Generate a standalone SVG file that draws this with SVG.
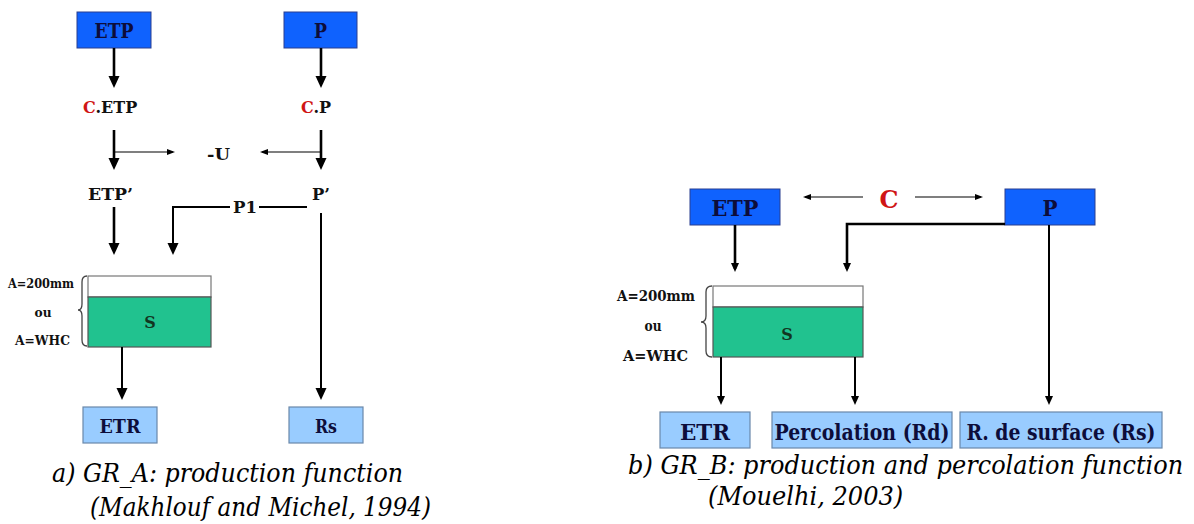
<svg xmlns="http://www.w3.org/2000/svg" width="1194" height="524" viewBox="0 0 1194 524" font-family="DejaVu Serif">
<defs>
<marker id="big" markerUnits="userSpaceOnUse" markerWidth="12" markerHeight="12" refX="8" refY="6" orient="auto"><path d="M0,0.5 L12,6 L0,11.5 z" fill="#000"/></marker>
<marker id="mid" markerUnits="userSpaceOnUse" markerWidth="10" markerHeight="10" refX="6" refY="4.5" orient="auto"><path d="M0,0.5 L9,4.5 L0,8.5 z" fill="#000"/></marker>
<marker id="small" markerUnits="userSpaceOnUse" markerWidth="9" markerHeight="7" refX="6" refY="3" orient="auto"><path d="M0,0 L8,3 L0,6 z" fill="#000"/></marker>
</defs>
<style>
text{font-family:'DejaVu Serif',serif;}
.b{font-weight:bold;}
.top{fill:#0f62fe;stroke:#2a3f8f;stroke-width:1;}
.low{fill:#99ccff;stroke:#6a88aa;stroke-width:1.2;}
.bt{font-weight:bold;fill:#0d0d3a;text-anchor:middle;}
.lab{font-weight:bold;fill:#111;}
.red{fill:#d01515;}
.cap{font-style:italic;fill:#000;}
.thick{stroke:#000;stroke-width:2.6;fill:none;}
.med{stroke:#000;stroke-width:2;fill:none;}
.thin{stroke:#000;stroke-width:1.2;fill:none;}
.res-w{fill:#fff;stroke:#777;stroke-width:1.2;}
.res-g{fill:#21c28f;stroke:#555;stroke-width:1.2;}
.brace{fill:none;stroke:#444;stroke-width:1.3;}
</style>

<!-- ============ Diagram a ============ -->
<g id="a-etp"><rect class="top" x="77" y="12" width="74" height="36"/><text class="bt" x="114" y="38" font-size="20" textLength="39" lengthAdjust="spacingAndGlyphs">ETP</text></g>
<g id="a-p"><rect class="top" x="284" y="12" width="73" height="36"/><text class="bt" x="320.5" y="38" font-size="20" textLength="13" lengthAdjust="spacingAndGlyphs">P</text></g>
<g id="a-cetp"><text class="lab" x="83" y="113" font-size="16"><tspan class="red">C</tspan>.ETP</text></g>
<g id="a-cp"><text class="lab" x="301" y="113" font-size="16"><tspan class="red">C</tspan>.P</text></g>
<g id="a-u"><text class="lab" x="207" y="160" font-size="17" textLength="23" lengthAdjust="spacingAndGlyphs">-U</text></g>
<g id="a-etp2"><text class="lab" x="88" y="200" font-size="17" textLength="45" lengthAdjust="spacingAndGlyphs">ETP’</text></g>
<g id="a-p2"><text class="lab" x="312" y="200" font-size="17" textLength="18" lengthAdjust="spacingAndGlyphs">P’</text></g>
<g id="a-p1"><text class="lab" x="233" y="213" font-size="17" textLength="24" lengthAdjust="spacingAndGlyphs">P1</text></g>
<g id="a-s">
<rect class="res-w" x="88" y="276" width="123" height="21"/>
<rect class="res-g" x="88" y="297" width="123" height="50"/>
<text class="bt" x="150" y="328" font-size="16" style="fill:#12351f">S</text>
<path class="brace" d="M87,276 Q82,276 82,282 L82,304 Q82,310 78,310 Q82,310 82,316 L82,340 Q82,346 87,346"/>
<text class="lab" x="8" y="288" font-size="12.5" textLength="66" lengthAdjust="spacingAndGlyphs">A=200mm</text>
<text class="lab" x="43" y="317" font-size="12.5" text-anchor="middle" textLength="17" lengthAdjust="spacingAndGlyphs">ou</text>
<text class="lab" x="15" y="345" font-size="12.5" textLength="55" lengthAdjust="spacingAndGlyphs">A=WHC</text>
</g>
<g id="a-etr"><rect class="low" x="83" y="407" width="74" height="36"/><text class="bt" x="120" y="433" font-size="19" textLength="41" lengthAdjust="spacingAndGlyphs">ETR</text></g>
<g id="a-rs"><rect class="low" x="289" y="407" width="74" height="36"/><text class="bt" x="326" y="433" font-size="19" textLength="22" lengthAdjust="spacingAndGlyphs">Rs</text></g>
<g id="a-caption">
<text class="cap" x="52" y="482" font-size="26" textLength="351" lengthAdjust="spacingAndGlyphs">a) GR_A: production function</text>
<text class="cap" x="90" y="516" font-size="26" textLength="341" lengthAdjust="spacingAndGlyphs">(Makhlouf and Michel, 1994)</text>
</g>

<!-- ============ Diagram b ============ -->
<g id="b-etp"><rect class="top" x="690" y="189" width="90" height="36"/><text class="bt" x="735" y="216" font-size="22" textLength="47" lengthAdjust="spacingAndGlyphs">ETP</text></g>
<g id="b-p"><rect class="top" x="1005" y="189" width="90" height="36"/><text class="bt" x="1050" y="216" font-size="22" textLength="15" lengthAdjust="spacingAndGlyphs">P</text></g>
<g id="b-c"><text class="b red" x="889" y="208" font-size="24" text-anchor="middle" textLength="19" lengthAdjust="spacingAndGlyphs">C</text></g>
<g id="b-s">
<rect class="res-w" x="713" y="286" width="150" height="21"/>
<rect class="res-g" x="713" y="307" width="150" height="50"/>
<text class="bt" x="787" y="340" font-size="16" style="fill:#12351f">S</text>
<path class="brace" d="M712,286 Q706,286 706,292 L706,316 Q706,322 701,322 Q706,322 706,328 L706,351 Q706,357 712,357"/>
<text class="lab" x="617" y="301" font-size="15" textLength="78" lengthAdjust="spacingAndGlyphs">A=200mm</text>
<text class="lab" x="653" y="331" font-size="15" text-anchor="middle" textLength="17" lengthAdjust="spacingAndGlyphs">ou</text>
<text class="lab" x="623" y="361" font-size="15" textLength="65" lengthAdjust="spacingAndGlyphs">A=WHC</text>
</g>
<g id="b-etr"><rect class="low" x="660" y="412" width="90" height="36"/><text class="bt" x="705" y="440" font-size="22" textLength="50" lengthAdjust="spacingAndGlyphs">ETR</text></g>
<g id="b-perc"><rect class="low" x="772" y="412" width="180" height="36"/><text class="bt" x="862" y="440" font-size="22" textLength="175" lengthAdjust="spacingAndGlyphs">Percolation (Rd)</text></g>
<g id="b-surf"><rect class="low" x="960" y="412" width="202" height="36"/><text class="bt" x="1061" y="440" font-size="22" textLength="189" lengthAdjust="spacingAndGlyphs">R. de surface (Rs)</text></g>
<g id="b-caption">
<text class="cap" transform="translate(628,474) scale(0.8,1)" x="0" y="0" font-size="26" textLength="694" lengthAdjust="spacingAndGlyphs">b) GR_B: production and percolation function</text>
<text class="cap" transform="translate(708,505) scale(0.8,1)" x="0" y="0" font-size="26" textLength="244" lengthAdjust="spacingAndGlyphs">(Mouelhi, 2003)</text>
</g>

<!-- ============ Connectors ============ -->
<g id="connectors">
<line class="thick" x1="114" y1="48" x2="114" y2="84" marker-end="url(#big)"/>
<line class="thick" x1="321" y1="48" x2="321" y2="84" marker-end="url(#big)"/>
<line class="thick" x1="114" y1="130" x2="114" y2="166" marker-end="url(#big)"/>
<line class="thin" x1="114" y1="152" x2="173" y2="152" marker-end="url(#small)"/>
<line class="thick" x1="321" y1="130" x2="321" y2="166" marker-end="url(#big)"/>
<line class="thin" x1="321" y1="152" x2="262" y2="152" marker-end="url(#small)"/>
<line class="thick" x1="114" y1="207" x2="114" y2="251" marker-end="url(#big)"/>
<line class="med" x1="307" y1="207" x2="259" y2="207"/>
<path class="med" d="M230,207 L173,207 L173,251" marker-end="url(#big)"/>
<line class="med" x1="321" y1="213" x2="321" y2="396" marker-end="url(#big)"/>
<line class="med" x1="122" y1="347" x2="122" y2="396" marker-end="url(#big)"/>
<line class="thin" x1="863" y1="197" x2="805" y2="197" marker-end="url(#small)"/>
<line class="thin" x1="915" y1="197" x2="981" y2="197" marker-end="url(#small)"/>
<line class="thick" x1="735" y1="225" x2="735" y2="269" marker-end="url(#mid)"/>
<path class="thick" d="M1005,224 L847,224 L847,269" marker-end="url(#mid)"/>
<line class="med" x1="1049" y1="225" x2="1049" y2="402" marker-end="url(#mid)"/>
<line class="med" x1="721" y1="357" x2="721" y2="402" marker-end="url(#mid)"/>
<line class="med" x1="855" y1="357" x2="855" y2="402" marker-end="url(#mid)"/>
</g>
</svg>
